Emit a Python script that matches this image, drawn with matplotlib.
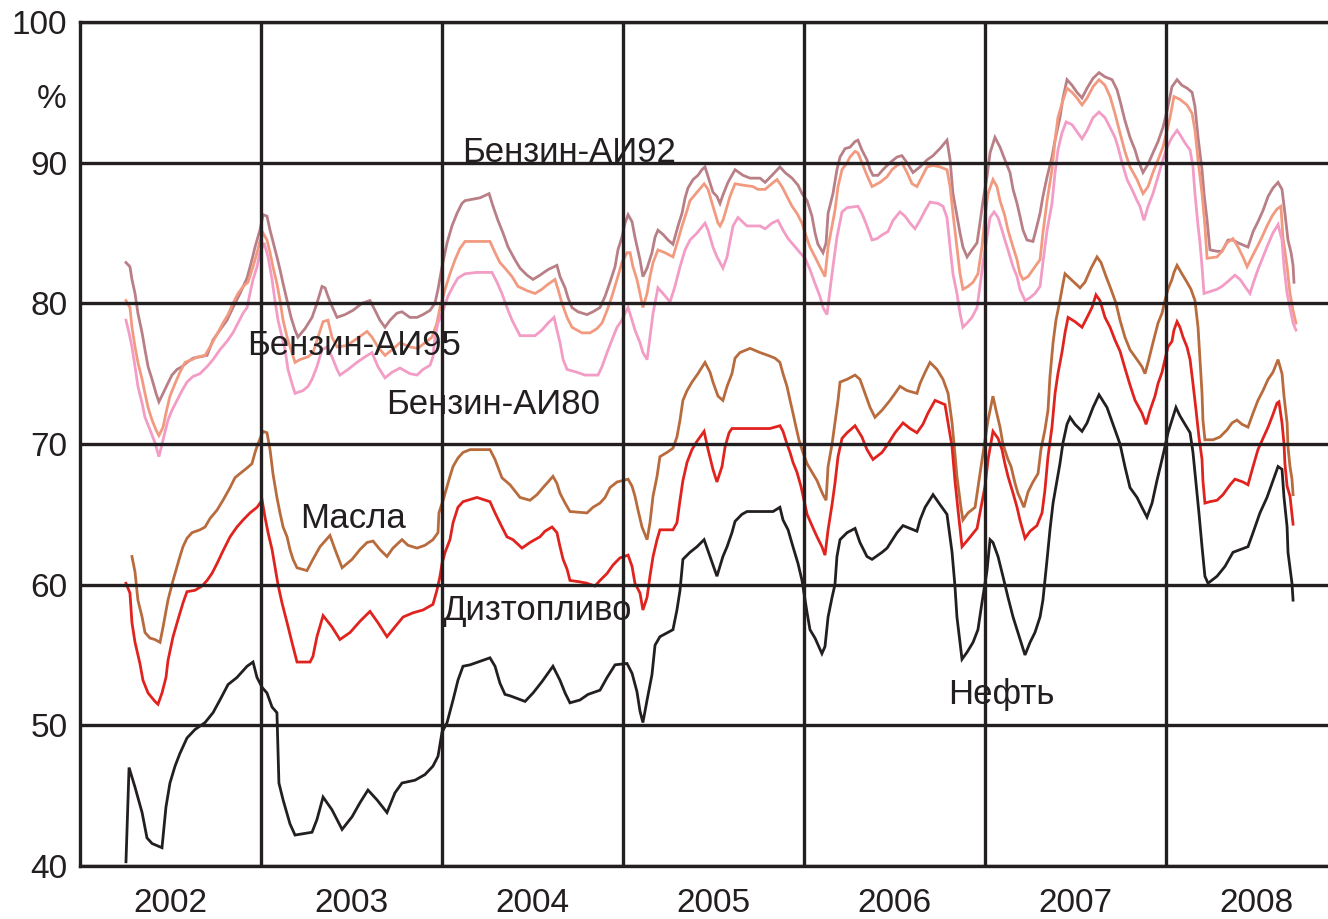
import matplotlib
matplotlib.use("Agg")
import matplotlib.pyplot as plt
import matplotlib.transforms as mtransforms

plt.rcParams['font.family'] = ['Liberation Sans', 'DejaVu Sans']

# ---- data: decimal year / percent -------------------------------------
oil_t = [2002.254, 2002.271, 2002.304, 2002.343, 2002.370, 2002.398, 2002.453, 2002.475, 2002.497, 2002.525,
         2002.552, 2002.591, 2002.635, 2002.691, 2002.735, 2002.773, 2002.818, 2002.867, 2002.923, 2002.956,
         2002.978, 2003.006, 2003.033, 2003.061, 2003.088, 2003.099, 2003.122, 2003.160, 2003.188, 2003.282,
         2003.309, 2003.343, 2003.392, 2003.448, 2003.503, 2003.547, 2003.591, 2003.641, 2003.696, 2003.740,
         2003.779, 2003.851, 2003.906, 2003.950, 2003.978, 2004.000, 2004.028, 2004.061, 2004.088, 2004.116,
         2004.155, 2004.199, 2004.265, 2004.293, 2004.320, 2004.348, 2004.376, 2004.459, 2004.503, 2004.552,
         2004.613, 2004.652, 2004.680, 2004.707, 2004.762, 2004.807, 2004.873, 2004.912, 2004.956, 2005.022,
         2005.050, 2005.077, 2005.094, 2005.110, 2005.133, 2005.160, 2005.177, 2005.204, 2005.276, 2005.298,
         2005.315, 2005.331, 2005.370, 2005.409, 2005.448, 2005.481, 2005.519, 2005.552, 2005.575, 2005.602,
         2005.619, 2005.657, 2005.685, 2005.829, 2005.867, 2005.884, 2005.912, 2005.939, 2005.967, 2005.989,
         2006.017, 2006.033, 2006.061, 2006.099, 2006.116, 2006.133, 2006.155, 2006.171, 2006.182, 2006.199,
         2006.238, 2006.282, 2006.309, 2006.348, 2006.376, 2006.431, 2006.459, 2006.514, 2006.547, 2006.586,
         2006.624, 2006.641, 2006.669, 2006.713, 2006.751, 2006.790, 2006.818, 2006.834, 2006.845, 2006.873,
         2006.901, 2006.934, 2006.961, 2006.983, 2007.011, 2007.028, 2007.044, 2007.072, 2007.099, 2007.127,
         2007.155, 2007.182, 2007.221, 2007.249, 2007.276, 2007.304, 2007.320, 2007.343, 2007.359, 2007.376,
         2007.398, 2007.414, 2007.431, 2007.453, 2007.470, 2007.497, 2007.536, 2007.564, 2007.597, 2007.630,
         2007.674, 2007.707, 2007.746, 2007.773, 2007.801, 2007.840, 2007.867, 2007.895, 2007.923, 2007.950,
         2007.978, 2007.994, 2008.011, 2008.033, 2008.055, 2008.077, 2008.105, 2008.133, 2008.149, 2008.166,
         2008.182, 2008.199, 2008.215, 2008.232, 2008.282, 2008.326, 2008.370, 2008.453, 2008.481, 2008.519,
         2008.558, 2008.591, 2008.619, 2008.641, 2008.652, 2008.669, 2008.674, 2008.696, 2008.702]
oil_v = [40.3, 47.0, 45.6, 43.8, 42.0, 41.6, 41.3, 44.2, 45.9, 47.1,
         48.0, 49.1, 49.7, 50.2, 50.9, 51.8, 52.9, 53.4, 54.2, 54.5,
         53.4, 52.7, 52.3, 51.3, 50.9, 45.9, 44.7, 43.0, 42.2, 42.4,
         43.3, 44.9, 44.0, 42.6, 43.5, 44.5, 45.4, 44.7, 43.8, 45.2,
         45.9, 46.1, 46.5, 47.1, 47.8, 49.5, 50.2, 51.8, 53.2, 54.2,
         54.3, 54.5, 54.8, 54.2, 53.0, 52.2, 52.1, 51.7, 52.3, 53.1,
         54.2, 53.2, 52.3, 51.6, 51.8, 52.2, 52.5, 53.4, 54.3, 54.4,
         53.7, 52.4, 51.0, 50.2, 51.8, 53.6, 55.7, 56.3, 56.8, 58.2,
         59.6, 61.8, 62.3, 62.7, 63.2, 62.0, 60.6, 62.0, 62.7, 63.7,
         64.5, 65.0, 65.2, 65.2, 65.5, 64.6, 63.9, 62.7, 61.5, 60.3,
         58.0, 56.8, 56.2, 55.1, 55.6, 57.7, 59.1, 60.0, 62.0, 63.2,
         63.7, 64.0, 63.0, 62.0, 61.8, 62.3, 62.6, 63.7, 64.2, 64.0,
         63.8, 64.6, 65.5, 66.4, 65.7, 65.0, 62.3, 59.9, 57.7, 54.7,
         55.2, 55.9, 56.8, 58.7, 61.0, 63.2, 63.0, 62.0, 60.6, 59.1,
         57.7, 56.6, 55.0, 55.9, 56.6, 57.7, 58.9, 61.8, 63.9, 65.8,
         67.4, 68.6, 70.1, 71.4, 71.9, 71.4, 70.9, 71.5, 72.6, 73.5,
         72.6, 71.4, 70.0, 68.4, 66.9, 66.2, 65.5, 64.8, 65.8, 67.4,
         68.9, 69.8, 70.8, 71.7, 72.6, 72.0, 71.4, 70.8, 69.4, 67.2,
         65.1, 62.7, 60.6, 60.1, 60.6, 61.3, 62.3, 62.7, 63.7, 65.1,
         66.2, 67.4, 68.4, 68.2, 66.2, 64.1, 62.3, 60.1, 58.9]

diesel_t = [2002.254, 2002.276, 2002.287, 2002.304, 2002.331, 2002.348, 2002.376, 2002.414, 2002.431, 2002.453,
            2002.475, 2002.486, 2002.514, 2002.541, 2002.569, 2002.591, 2002.635, 2002.674, 2002.702, 2002.729,
            2002.757, 2002.790, 2002.829, 2002.867, 2002.901, 2002.939, 2002.978, 2003.006, 2003.022, 2003.039,
            2003.061, 2003.077, 2003.094, 2003.116, 2003.144, 2003.171, 2003.199, 2003.271, 2003.287, 2003.309,
            2003.343, 2003.392, 2003.436, 2003.492, 2003.547, 2003.602, 2003.646, 2003.696, 2003.740, 2003.785,
            2003.840, 2003.895, 2003.950, 2003.972, 2003.989, 2004.000, 2004.017, 2004.044, 2004.061, 2004.088,
            2004.116, 2004.193, 2004.265, 2004.293, 2004.331, 2004.359, 2004.392, 2004.442, 2004.486, 2004.541,
            2004.569, 2004.608, 2004.635, 2004.652, 2004.669, 2004.691, 2004.707, 2004.762, 2004.801, 2004.845,
            2004.873, 2004.912, 2004.945, 2004.983, 2005.028, 2005.050, 2005.066, 2005.094, 2005.110, 2005.133,
            2005.149, 2005.166, 2005.188, 2005.204, 2005.276, 2005.298, 2005.315, 2005.331, 2005.354, 2005.381,
            2005.409, 2005.448, 2005.470, 2005.497, 2005.519, 2005.547, 2005.564, 2005.586, 2005.602, 2005.812,
            2005.867, 2005.884, 2005.906, 2005.923, 2005.939, 2005.961, 2005.983, 2006.000, 2006.017, 2006.044,
            2006.072, 2006.099, 2006.116, 2006.133, 2006.155, 2006.171, 2006.188, 2006.210, 2006.238, 2006.282,
            2006.320, 2006.348, 2006.381, 2006.431, 2006.464, 2006.503, 2006.547, 2006.586, 2006.624, 2006.657,
            2006.685, 2006.724, 2006.779, 2006.796, 2006.818, 2006.834, 2006.851, 2006.873, 2006.906, 2006.956,
            2006.972, 2007.000, 2007.017, 2007.044, 2007.072, 2007.094, 2007.110, 2007.127, 2007.155, 2007.177,
            2007.193, 2007.221, 2007.249, 2007.287, 2007.315, 2007.331, 2007.348, 2007.370, 2007.387, 2007.403,
            2007.425, 2007.442, 2007.459, 2007.497, 2007.536, 2007.564, 2007.591, 2007.613, 2007.635, 2007.663,
            2007.691, 2007.718, 2007.746, 2007.773, 2007.801, 2007.829, 2007.867, 2007.890, 2007.912, 2007.939,
            2007.956, 2007.978, 2007.994, 2008.011, 2008.033, 2008.044, 2008.061, 2008.077, 2008.094, 2008.116,
            2008.133, 2008.149, 2008.166, 2008.182, 2008.199, 2008.204, 2008.215, 2008.243, 2008.282, 2008.315,
            2008.354, 2008.381, 2008.425, 2008.453, 2008.481, 2008.508, 2008.536, 2008.564, 2008.591, 2008.613,
            2008.624, 2008.641, 2008.652, 2008.657, 2008.669, 2008.685, 2008.702]
diesel_v = [60.1, 59.4, 57.3, 55.9, 54.4, 53.2, 52.3, 51.7, 51.5, 52.3,
            53.4, 54.6, 56.3, 57.5, 58.7, 59.5, 59.6, 59.9, 60.3, 60.8,
            61.5, 62.4, 63.4, 64.1, 64.6, 65.1, 65.5, 66.0, 64.8, 63.7,
            62.5, 61.3, 60.0, 58.7, 57.3, 55.9, 54.5, 54.5, 54.9, 56.3,
            57.8, 57.0, 56.1, 56.6, 57.4, 58.1, 57.3, 56.3, 57.0, 57.7,
            58.0, 58.2, 58.6, 59.6, 60.6, 61.5, 62.3, 63.2, 64.4, 65.5,
            65.9, 66.2, 65.9, 65.1, 64.1, 63.4, 63.2, 62.6, 63.0, 63.4,
            63.8, 64.1, 63.7, 62.7, 61.8, 61.1, 60.3, 60.2, 60.1, 59.9,
            60.3, 60.8, 61.4, 61.9, 62.1, 61.3, 60.1, 59.4, 58.2, 59.1,
            60.6, 62.0, 63.2, 63.9, 63.9, 64.4, 66.0, 67.4, 68.7, 69.6,
            70.2, 70.9, 69.6, 68.2, 67.3, 68.4, 69.8, 70.8, 71.1, 71.1,
            71.3, 70.9, 70.0, 69.4, 68.7, 68.0, 67.0, 66.0, 65.0, 64.2,
            63.4, 62.7, 62.1, 63.9, 65.7, 67.2, 69.1, 70.4, 70.8, 71.3,
            70.5, 69.6, 68.9, 69.4, 70.0, 70.8, 71.5, 71.1, 70.8, 71.4,
            72.2, 73.1, 72.8, 71.5, 69.8, 67.4, 65.3, 62.7, 63.2, 64.0,
            65.1, 67.0, 68.9, 70.9, 70.4, 69.6, 68.6, 67.7, 66.5, 65.5,
            64.6, 63.3, 63.8, 64.2, 65.1, 66.7, 69.1, 71.2, 73.6, 75.0,
            76.5, 77.9, 79.0, 78.7, 78.3, 79.0, 79.7, 80.6, 80.2, 79.0,
            78.3, 77.4, 76.6, 75.4, 74.2, 73.1, 72.2, 71.4, 72.4, 73.4,
            74.3, 75.1, 76.0, 76.9, 77.3, 78.1, 78.7, 78.3, 77.6, 76.9,
            76.0, 74.3, 72.4, 70.5, 68.9, 67.4, 65.8, 65.9, 66.0, 66.4,
            67.1, 67.5, 67.3, 67.1, 68.4, 69.6, 70.4, 71.2, 72.1, 72.9,
            73.0, 71.5, 70.0, 68.6, 67.0, 66.3, 64.3]

oils_t = [2002.287, 2002.304, 2002.320, 2002.343, 2002.359, 2002.387, 2002.414, 2002.442, 2002.459, 2002.486,
          2002.514, 2002.536, 2002.552, 2002.569, 2002.591, 2002.619, 2002.663, 2002.691, 2002.718, 2002.757,
          2002.790, 2002.829, 2002.856, 2002.884, 2002.923, 2002.950, 2002.967, 2002.983, 2003.011, 2003.033,
          2003.050, 2003.066, 2003.088, 2003.105, 2003.122, 2003.144, 2003.160, 2003.177, 2003.199, 2003.254,
          2003.287, 2003.326, 2003.381, 2003.409, 2003.448, 2003.503, 2003.547, 2003.586, 2003.619, 2003.657,
          2003.696, 2003.729, 2003.779, 2003.812, 2003.862, 2003.906, 2003.950, 2003.978, 2003.983, 2004.006,
          2004.028, 2004.044, 2004.061, 2004.088, 2004.116, 2004.155, 2004.265, 2004.293, 2004.331, 2004.376,
          2004.431, 2004.486, 2004.525, 2004.558, 2004.586, 2004.613, 2004.635, 2004.652, 2004.680, 2004.707,
          2004.801, 2004.834, 2004.873, 2004.901, 2004.928, 2004.967, 2005.028, 2005.050, 2005.066, 2005.083,
          2005.105, 2005.133, 2005.149, 2005.166, 2005.188, 2005.204, 2005.243, 2005.276, 2005.298, 2005.315,
          2005.331, 2005.354, 2005.381, 2005.414, 2005.453, 2005.481, 2005.497, 2005.525, 2005.552, 2005.575,
          2005.602, 2005.619, 2005.646, 2005.702, 2005.757, 2005.801, 2005.840, 2005.867, 2005.884, 2005.906,
          2005.923, 2005.939, 2005.956, 2005.972, 2005.994, 2006.017, 2006.044, 2006.072, 2006.088, 2006.105,
          2006.122, 2006.133, 2006.155, 2006.171, 2006.188, 2006.199, 2006.238, 2006.282, 2006.309, 2006.337,
          2006.365, 2006.392, 2006.431, 2006.475, 2006.503, 2006.530, 2006.569, 2006.624, 2006.641, 2006.669,
          2006.696, 2006.735, 2006.768, 2006.796, 2006.818, 2006.834, 2006.845, 2006.867, 2006.878, 2006.906,
          2006.945, 2006.961, 2006.978, 2007.000, 2007.017, 2007.039, 2007.044, 2007.061, 2007.083, 2007.099,
          2007.127, 2007.144, 2007.166, 2007.182, 2007.199, 2007.215, 2007.238, 2007.265, 2007.293, 2007.309,
          2007.331, 2007.348, 2007.359, 2007.376, 2007.392, 2007.414, 2007.431, 2007.442, 2007.475, 2007.525,
          2007.552, 2007.586, 2007.619, 2007.641, 2007.669, 2007.696, 2007.724, 2007.746, 2007.773, 2007.801,
          2007.840, 2007.867, 2007.884, 2007.901, 2007.928, 2007.956, 2007.978, 2007.994, 2008.011, 2008.033,
          2008.044, 2008.061, 2008.088, 2008.116, 2008.138, 2008.160, 2008.177, 2008.188, 2008.199, 2008.204,
          2008.215, 2008.260, 2008.298, 2008.337, 2008.365, 2008.392, 2008.420, 2008.453, 2008.481, 2008.508,
          2008.536, 2008.564, 2008.591, 2008.619, 2008.641, 2008.652, 2008.669, 2008.674, 2008.685, 2008.696,
          2008.702]
oils_v = [62.0, 60.9, 58.9, 57.7, 56.6, 56.2, 56.1, 55.9, 57.0, 58.9,
          60.3, 61.3, 62.0, 62.7, 63.3, 63.7, 63.9, 64.1, 64.7, 65.3,
          66.0, 66.9, 67.6, 67.9, 68.3, 68.6, 69.4, 70.0, 70.9, 70.8,
          69.6, 67.9, 66.2, 65.1, 64.1, 63.4, 62.5, 61.8, 61.2, 61.0,
          61.8, 62.7, 63.5, 62.5, 61.2, 61.8, 62.5, 63.0, 63.1, 62.5,
          62.0, 62.6, 63.2, 62.8, 62.6, 62.8, 63.2, 63.7, 65.1, 66.0,
          67.0, 67.7, 68.4, 69.0, 69.4, 69.6, 69.6, 68.9, 67.6, 67.1,
          66.2, 66.0, 66.4, 66.9, 67.3, 67.7, 67.2, 66.5, 65.8, 65.2,
          65.1, 65.5, 65.8, 66.2, 66.9, 67.3, 67.5, 67.0, 66.3, 65.3,
          64.1, 63.2, 64.4, 66.3, 67.7, 69.1, 69.4, 69.7, 70.5, 71.7,
          73.1, 73.8, 74.4, 75.0, 75.8, 75.1, 74.4, 73.4, 73.1, 74.1,
          75.0, 76.1, 76.5, 76.8, 76.5, 76.3, 76.1, 75.8, 75.0, 74.1,
          73.1, 72.2, 71.2, 70.3, 69.4, 68.6, 68.0, 67.4, 66.9, 66.4,
          66.0, 68.4, 70.0, 71.5, 73.1, 74.4, 74.6, 74.9, 74.6, 73.6,
          72.6, 71.9, 72.4, 73.1, 73.6, 74.1, 73.8, 73.6, 74.3, 75.1,
          75.8, 75.3, 74.6, 73.6, 71.5, 69.3, 67.7, 65.5, 64.6, 65.1,
          65.5, 66.9, 68.4, 70.3, 71.7, 73.1, 73.4, 72.4, 71.2, 70.0,
          68.9, 68.4, 67.2, 66.5, 66.0, 65.5, 66.6, 67.3, 67.9, 69.6,
          71.0, 72.4, 74.8, 77.2, 78.8, 80.2, 81.4, 82.1, 81.7, 81.1,
          81.5, 82.5, 83.3, 82.9, 81.9, 81.0, 80.0, 78.8, 77.6, 76.7,
          76.0, 75.5, 75.0, 75.8, 77.2, 78.6, 79.3, 80.2, 81.0, 81.7,
          82.2, 82.7, 82.1, 81.5, 81.0, 80.2, 78.3, 76.0, 73.6, 71.7,
          70.3, 70.3, 70.5, 71.0, 71.5, 71.7, 71.4, 71.2, 72.2, 73.1,
          73.8, 74.6, 75.1, 76.0, 75.0, 73.4, 71.5, 69.8, 68.4, 67.5,
          66.4]

ai92_t = [2002.254, 2002.276, 2002.287, 2002.304, 2002.320, 2002.343, 2002.359, 2002.376, 2002.398, 2002.420,
          2002.436, 2002.459, 2002.481, 2002.508, 2002.536, 2002.564, 2002.591, 2002.624, 2002.702, 2002.735,
          2002.773, 2002.812, 2002.845, 2002.884, 2002.923, 2002.950, 2002.967, 2002.994, 2003.011, 2003.033,
          2003.050, 2003.066, 2003.088, 2003.105, 2003.122, 2003.144, 2003.166, 2003.188, 2003.204, 2003.243,
          2003.282, 2003.309, 2003.337, 2003.354, 2003.370, 2003.392, 2003.420, 2003.464, 2003.508, 2003.558,
          2003.602, 2003.630, 2003.657, 2003.685, 2003.713, 2003.751, 2003.779, 2003.823, 2003.862, 2003.895,
          2003.934, 2003.961, 2003.978, 2004.000, 2004.028, 2004.055, 2004.083, 2004.110, 2004.127, 2004.210,
          2004.260, 2004.282, 2004.309, 2004.337, 2004.365, 2004.403, 2004.431, 2004.470, 2004.503, 2004.541,
          2004.586, 2004.635, 2004.652, 2004.680, 2004.696, 2004.718, 2004.751, 2004.801, 2004.834, 2004.873,
          2004.901, 2004.928, 2004.956, 2004.972, 2004.994, 2005.011, 2005.028, 2005.050, 2005.066, 2005.094,
          2005.110, 2005.133, 2005.160, 2005.177, 2005.193, 2005.221, 2005.249, 2005.276, 2005.304, 2005.326,
          2005.343, 2005.359, 2005.387, 2005.414, 2005.436, 2005.453, 2005.470, 2005.497, 2005.519, 2005.536,
          2005.552, 2005.580, 2005.619, 2005.663, 2005.702, 2005.757, 2005.785, 2005.823, 2005.867, 2005.895,
          2005.934, 2005.967, 2005.989, 2006.017, 2006.044, 2006.061, 2006.077, 2006.105, 2006.122, 2006.133,
          2006.160, 2006.182, 2006.199, 2006.227, 2006.254, 2006.282, 2006.298, 2006.320, 2006.348, 2006.365,
          2006.381, 2006.409, 2006.436, 2006.475, 2006.514, 2006.541, 2006.569, 2006.602, 2006.641, 2006.680,
          2006.713, 2006.751, 2006.790, 2006.807, 2006.823, 2006.845, 2006.862, 2006.878, 2006.901, 2006.928,
          2006.956, 2006.972, 2006.989, 2007.011, 2007.028, 2007.055, 2007.083, 2007.110, 2007.138, 2007.155,
          2007.177, 2007.193, 2007.210, 2007.232, 2007.265, 2007.287, 2007.304, 2007.320, 2007.343, 2007.370,
          2007.387, 2007.414, 2007.431, 2007.453, 2007.481, 2007.508, 2007.536, 2007.564, 2007.597, 2007.630,
          2007.663, 2007.702, 2007.729, 2007.746, 2007.773, 2007.801, 2007.829, 2007.845, 2007.873, 2007.901,
          2007.928, 2007.956, 2007.983, 2008.006, 2008.033, 2008.061, 2008.088, 2008.116, 2008.144, 2008.160,
          2008.177, 2008.199, 2008.210, 2008.227, 2008.243, 2008.282, 2008.309, 2008.343, 2008.370, 2008.398,
          2008.453, 2008.481, 2008.508, 2008.536, 2008.564, 2008.591, 2008.619, 2008.641, 2008.657, 2008.674,
          2008.691, 2008.702, 2008.707]
ai92_v = [82.9, 82.6, 81.7, 80.7, 79.3, 77.9, 76.7, 75.5, 74.6, 73.6,
          73.0, 73.6, 74.2, 74.9, 75.3, 75.5, 75.8, 76.1, 76.3, 77.4,
          78.1, 78.8, 79.7, 80.7, 81.8, 83.1, 84.0, 85.2, 86.3, 86.2,
          85.2, 84.4, 83.3, 82.4, 81.4, 80.2, 79.0, 78.1, 77.6, 78.2,
          79.0, 80.0, 81.2, 81.1, 80.5, 79.8, 79.0, 79.2, 79.5, 80.0,
          80.2, 79.5, 78.8, 78.3, 78.8, 79.3, 79.4, 79.0, 79.0, 79.2,
          79.5, 80.0, 81.0, 82.6, 84.3, 85.5, 86.4, 87.1, 87.3, 87.5,
          87.8, 86.9, 85.9, 85.0, 84.0, 83.1, 82.5, 82.0, 81.7, 82.0,
          82.4, 82.7, 81.9, 81.1, 80.4, 79.7, 79.4, 79.2, 79.4, 79.7,
          80.5, 81.5, 82.6, 83.8, 84.7, 85.7, 86.3, 85.8, 84.7, 83.1,
          81.9, 82.5, 83.6, 84.7, 85.2, 84.9, 84.5, 84.2, 85.5, 86.4,
          87.5, 88.2, 88.8, 89.1, 89.5, 89.7, 89.0, 87.9, 87.6, 87.1,
          87.7, 88.6, 89.5, 89.1, 88.9, 88.9, 88.6, 89.1, 89.7, 89.3,
          88.9, 88.4, 87.8, 87.3, 86.2, 85.0, 84.2, 83.6, 84.3, 86.4,
          87.8, 89.5, 90.4, 91.0, 91.1, 91.5, 91.6, 90.9, 90.2, 89.5,
          89.1, 89.1, 89.5, 90.0, 90.4, 90.5, 90.0, 89.3, 89.7, 90.2,
          90.5, 91.0, 91.6, 90.2, 87.8, 86.2, 85.0, 84.0, 83.3, 83.8,
          84.3, 85.7, 87.3, 89.0, 90.7, 91.8, 91.1, 90.2, 89.3, 88.1,
          87.1, 86.2, 85.2, 84.5, 84.4, 85.5, 86.4, 87.6, 89.0, 90.4,
          91.6, 93.2, 94.6, 95.9, 95.5, 95.0, 94.6, 95.3, 96.0, 96.4,
          96.1, 95.9, 95.2, 94.4, 93.0, 91.8, 90.9, 90.2, 89.3, 89.9,
          90.7, 91.5, 92.5, 93.7, 95.4, 95.9, 95.5, 95.3, 95.0, 94.0,
          91.8, 89.5, 87.8, 85.9, 83.8, 83.7, 83.7, 84.5, 84.5, 84.3,
          84.0, 85.1, 85.8, 86.6, 87.6, 88.2, 88.6, 88.1, 86.4, 84.5,
          83.6, 82.7, 81.5]

ai95_t = [2002.254, 2002.276, 2002.287, 2002.304, 2002.320, 2002.343, 2002.359, 2002.376, 2002.398, 2002.420,
          2002.436, 2002.459, 2002.475, 2002.497, 2002.525, 2002.552, 2002.580, 2002.619, 2002.652, 2002.691,
          2002.718, 2002.757, 2002.790, 2002.818, 2002.845, 2002.873, 2002.901, 2002.928, 2002.956, 2002.978,
          2002.994, 2003.011, 2003.033, 2003.050, 2003.066, 2003.088, 2003.105, 2003.122, 2003.144, 2003.171,
          2003.188, 2003.215, 2003.260, 2003.287, 2003.315, 2003.343, 2003.370, 2003.392, 2003.420, 2003.475,
          2003.530, 2003.586, 2003.613, 2003.646, 2003.685, 2003.724, 2003.768, 2003.823, 2003.867, 2003.906,
          2003.945, 2003.972, 2003.989, 2004.017, 2004.044, 2004.072, 2004.099, 2004.127, 2004.265, 2004.293,
          2004.320, 2004.348, 2004.387, 2004.420, 2004.470, 2004.514, 2004.552, 2004.580, 2004.624, 2004.641,
          2004.663, 2004.691, 2004.718, 2004.773, 2004.818, 2004.856, 2004.884, 2004.912, 2004.939, 2004.967,
          2004.994, 2005.022, 2005.039, 2005.055, 2005.077, 2005.094, 2005.110, 2005.133, 2005.149, 2005.166,
          2005.193, 2005.232, 2005.276, 2005.304, 2005.326, 2005.354, 2005.370, 2005.409, 2005.448, 2005.470,
          2005.497, 2005.525, 2005.536, 2005.552, 2005.564, 2005.591, 2005.619, 2005.663, 2005.718, 2005.746,
          2005.785, 2005.812, 2005.851, 2005.878, 2005.906, 2005.934, 2005.961, 2005.989, 2006.006, 2006.033,
          2006.061, 2006.088, 2006.116, 2006.133, 2006.155, 2006.171, 2006.188, 2006.210, 2006.238, 2006.254,
          2006.282, 2006.298, 2006.320, 2006.348, 2006.376, 2006.420, 2006.459, 2006.486, 2006.514, 2006.541,
          2006.569, 2006.597, 2006.624, 2006.652, 2006.680, 2006.713, 2006.751, 2006.790, 2006.807, 2006.823,
          2006.845, 2006.862, 2006.878, 2006.906, 2006.934, 2006.961, 2006.983, 2007.000, 2007.017, 2007.044,
          2007.066, 2007.083, 2007.110, 2007.127, 2007.155, 2007.177, 2007.193, 2007.210, 2007.238, 2007.276,
          2007.304, 2007.320, 2007.343, 2007.370, 2007.387, 2007.403, 2007.425, 2007.453, 2007.481, 2007.508,
          2007.536, 2007.564, 2007.597, 2007.630, 2007.663, 2007.691, 2007.718, 2007.746, 2007.773, 2007.801,
          2007.840, 2007.873, 2007.901, 2007.928, 2007.956, 2007.983, 2008.006, 2008.022, 2008.044, 2008.077,
          2008.116, 2008.144, 2008.160, 2008.177, 2008.199, 2008.215, 2008.227, 2008.282, 2008.309, 2008.337,
          2008.370, 2008.398, 2008.425, 2008.448, 2008.475, 2008.503, 2008.530, 2008.558, 2008.586, 2008.613,
          2008.635, 2008.646, 2008.669, 2008.685, 2008.702, 2008.718]
ai95_v = [80.2, 79.7, 78.3, 76.9, 75.8, 74.6, 73.6, 72.6, 71.7, 71.0,
          70.6, 71.2, 72.2, 73.4, 74.3, 75.1, 75.8, 76.0, 76.2, 76.3,
          76.9, 77.8, 78.6, 79.2, 80.0, 80.7, 81.2, 81.5, 82.6, 83.6,
          84.4, 85.0, 84.5, 83.6, 82.6, 81.4, 80.2, 78.8, 77.6, 76.5,
          75.8, 76.0, 76.2, 76.5, 77.6, 78.7, 78.8, 77.6, 76.9, 77.0,
          77.5, 78.0, 77.6, 76.9, 76.3, 76.7, 77.2, 76.9, 76.8, 77.2,
          77.6, 78.6, 79.7, 81.0, 82.1, 83.1, 83.9, 84.4, 84.4, 83.6,
          82.9, 82.5, 81.9, 81.2, 80.9, 80.7, 81.0, 81.3, 81.7, 81.0,
          80.0, 79.0, 78.3, 77.9, 77.9, 78.2, 78.6, 79.5, 80.5, 81.7,
          82.9, 83.6, 83.6, 82.6, 81.7, 80.7, 79.7, 80.7, 81.9, 82.9,
          83.8, 83.6, 83.3, 84.5, 85.5, 86.6, 87.3, 87.9, 88.5, 88.1,
          86.9, 85.7, 85.5, 85.9, 86.4, 87.6, 88.5, 88.4, 88.3, 88.1,
          88.1, 88.4, 88.8, 88.3, 87.6, 86.9, 86.4, 85.7, 85.0, 84.0,
          83.3, 82.6, 81.9, 84.0, 85.5, 86.6, 88.3, 89.5, 90.0, 90.4,
          90.8, 90.7, 90.0, 89.1, 88.3, 88.6, 89.0, 89.5, 89.8, 90.0,
          89.3, 88.5, 88.3, 89.0, 89.7, 89.8, 89.7, 89.5, 88.3, 86.4,
          84.0, 82.1, 81.0, 81.2, 81.5, 82.1, 84.0, 86.2, 87.8, 88.8,
          88.3, 87.3, 86.2, 85.2, 84.0, 83.1, 82.1, 81.7, 81.9, 82.6,
          83.1, 85.0, 87.3, 89.5, 91.6, 93.2, 94.2, 95.3, 95.0, 94.6,
          94.1, 94.6, 95.4, 95.9, 95.5, 94.7, 93.5, 92.1, 90.8, 89.7,
          88.8, 87.8, 88.3, 89.3, 90.2, 91.1, 92.3, 93.2, 94.7, 94.5,
          94.1, 93.5, 92.3, 90.2, 87.8, 85.5, 83.2, 83.3, 83.7, 84.3,
          84.6, 84.0, 83.3, 82.6, 83.3, 84.0, 84.7, 85.5, 86.2, 86.7,
          86.9, 84.7, 82.6, 80.7, 79.5, 78.6]

ai80_t = [2002.254, 2002.271, 2002.287, 2002.304, 2002.320, 2002.343, 2002.359, 2002.387, 2002.414, 2002.436,
          2002.459, 2002.486, 2002.508, 2002.536, 2002.564, 2002.591, 2002.624, 2002.663, 2002.702, 2002.735,
          2002.773, 2002.812, 2002.845, 2002.873, 2002.901, 2002.923, 2002.939, 2002.956, 2002.978, 2002.994,
          2003.017, 2003.039, 2003.061, 2003.077, 2003.094, 2003.116, 2003.133, 2003.149, 2003.171, 2003.188,
          2003.232, 2003.260, 2003.282, 2003.309, 2003.337, 2003.365, 2003.392, 2003.420, 2003.436, 2003.481,
          2003.530, 2003.575, 2003.613, 2003.646, 2003.685, 2003.724, 2003.768, 2003.823, 2003.862, 2003.895,
          2003.934, 2003.950, 2003.961, 2003.978, 2004.006, 2004.033, 2004.061, 2004.088, 2004.127, 2004.193,
          2004.276, 2004.304, 2004.331, 2004.359, 2004.387, 2004.431, 2004.514, 2004.552, 2004.586, 2004.619,
          2004.635, 2004.652, 2004.669, 2004.691, 2004.746, 2004.790, 2004.862, 2004.884, 2004.912, 2004.939,
          2004.967, 2004.994, 2005.011, 2005.028, 2005.050, 2005.066, 2005.094, 2005.110, 2005.133, 2005.149,
          2005.166, 2005.193, 2005.221, 2005.260, 2005.287, 2005.315, 2005.343, 2005.370, 2005.409, 2005.453,
          2005.470, 2005.497, 2005.519, 2005.536, 2005.552, 2005.575, 2005.591, 2005.608, 2005.635, 2005.685,
          2005.757, 2005.785, 2005.823, 2005.856, 2005.884, 2005.912, 2005.939, 2005.978, 2006.006, 2006.033,
          2006.061, 2006.088, 2006.105, 2006.127, 2006.144, 2006.160, 2006.182, 2006.210, 2006.238, 2006.298,
          2006.320, 2006.348, 2006.376, 2006.403, 2006.436, 2006.464, 2006.492, 2006.530, 2006.558, 2006.586,
          2006.613, 2006.641, 2006.669, 2006.696, 2006.740, 2006.768, 2006.790, 2006.807, 2006.823, 2006.845,
          2006.862, 2006.878, 2006.901, 2006.928, 2006.956, 2006.972, 2006.989, 2007.011, 2007.028, 2007.050,
          2007.072, 2007.094, 2007.110, 2007.127, 2007.155, 2007.177, 2007.193, 2007.221, 2007.249, 2007.276,
          2007.304, 2007.320, 2007.343, 2007.370, 2007.387, 2007.403, 2007.425, 2007.448, 2007.481, 2007.508,
          2007.536, 2007.564, 2007.597, 2007.630, 2007.663, 2007.691, 2007.718, 2007.735, 2007.757, 2007.785,
          2007.812, 2007.840, 2007.856, 2007.878, 2007.901, 2007.928, 2007.956, 2007.978, 2008.006, 2008.033,
          2008.061, 2008.077, 2008.105, 2008.133, 2008.149, 2008.160, 2008.177, 2008.188, 2008.199, 2008.210,
          2008.282, 2008.309, 2008.337, 2008.381, 2008.409, 2008.436, 2008.464, 2008.481, 2008.508, 2008.536,
          2008.564, 2008.591, 2008.619, 2008.641, 2008.652, 2008.669, 2008.685, 2008.702, 2008.718]
ai80_v = [78.8, 77.9, 76.9, 75.5, 74.1, 72.9, 71.9, 71.0, 70.1, 69.1,
          70.3, 71.7, 72.4, 73.1, 73.8, 74.4, 74.8, 75.0, 75.5, 76.0,
          76.7, 77.3, 77.9, 78.6, 79.3, 79.7, 80.7, 81.7, 82.6, 83.6,
          84.3, 83.3, 81.7, 80.2, 78.8, 77.6, 76.7, 75.3, 74.3, 73.6,
          73.8, 74.1, 74.6, 75.5, 76.7, 76.9, 76.2, 75.3, 74.9, 75.3,
          75.8, 76.2, 76.5, 75.5, 74.7, 75.1, 75.4, 75.0, 74.9, 75.3,
          75.6, 76.2, 77.6, 78.6, 79.5, 80.5, 81.2, 81.8, 82.1, 82.2,
          82.2, 81.5, 80.7, 79.7, 78.8, 77.7, 77.7, 78.1, 78.6, 79.0,
          78.1, 77.2, 76.0, 75.3, 75.1, 74.9, 74.9, 75.5, 76.5, 77.4,
          78.3, 78.8, 79.3, 79.7, 78.8, 78.1, 77.2, 76.5, 76.0, 77.6,
          79.3, 81.1, 80.7, 80.1, 81.2, 82.6, 83.8, 84.5, 85.0, 85.7,
          85.2, 84.0, 83.3, 82.9, 82.5, 83.3, 84.4, 85.5, 86.1, 85.5,
          85.5, 85.3, 85.7, 85.9, 85.2, 84.6, 84.2, 83.6, 83.2, 82.4,
          81.4, 80.5, 79.7, 79.2, 81.0, 82.6, 84.7, 86.5, 86.8, 86.9,
          86.4, 85.5, 84.5, 84.6, 84.9, 85.1, 85.9, 86.5, 86.2, 85.7,
          85.3, 85.9, 86.6, 87.2, 87.1, 86.9, 86.1, 84.0, 82.1, 80.7,
          79.3, 78.3, 78.6, 79.0, 79.7, 81.2, 82.9, 84.7, 86.1, 86.5,
          86.1, 85.2, 84.5, 83.8, 82.6, 81.9, 81.0, 80.2, 80.4, 80.7,
          81.2, 82.9, 85.2, 87.1, 89.3, 90.9, 92.1, 92.9, 92.7, 92.2,
          91.7, 92.3, 93.2, 93.6, 93.2, 92.5, 91.8, 91.1, 90.0, 88.8,
          88.1, 87.3, 86.9, 85.9, 86.9, 87.8, 89.0, 90.0, 91.1, 91.8,
          92.3, 92.0, 91.4, 90.9, 89.7, 87.8, 85.5, 84.3, 82.6, 80.7,
          81.0, 81.2, 81.5, 82.0, 81.7, 81.2, 80.7, 81.4, 82.4, 83.3,
          84.2, 85.0, 85.6, 84.5, 82.6, 80.7, 79.7, 78.6, 78.1]

years = [2002, 2003, 2004, 2005, 2006, 2007, 2008]
y_ticks = [40, 50, 60, 70, 80, 90, 100]

series = [
    (ai92_t, ai92_v, '#B97F87'),
    (ai95_t, ai95_v, '#F29A80'),
    (ai80_t, ai80_v, '#F29CC6'),
    (oils_t, oils_v, '#B86B3D'),
    (diesel_t, diesel_v, '#E0231F'),
    (oil_t, oil_v, '#231F20'),
]

labels = [
    ('Бензин-АИ92', 2004.110, 90.05),
    ('Бензин-АИ95', 2002.923, 76.3),
    ('Бензин-АИ80', 2003.691, 72.1),
    ('Масла', 2003.215, 64.0),
    ('Дизтопливо', 2004.006, 57.5),
    ('Нефть', 2006.796, 51.5),
]

W, H = 1328, 919
fig = plt.figure(figsize=(W / 100, H / 100), dpi=100)
ax = fig.add_axes([80 / W, (H - 866) / H, (W - 80) / W, (866 - 22) / H])

for t, v, c in series:
    ax.plot(t, v, color=c, lw=2.0, solid_joinstyle='miter', zorder=2)

gridc = '#231F20'
ax.set_xlim(2002, 2002 + (W - 80) / 181.0)
ax.set_ylim(40, 100)

ax.set_yticks(y_ticks)
ax.set_yticklabels([str(v) for v in y_ticks])
ax.set_xticks(years[1:])
ax.set_xticklabels([])
ax.set_xticks([y + 0.5 for y in years], minor=True)
ax.set_xticklabels([str(y) for y in years], minor=True)

ax.tick_params(axis='y', length=0, pad=9, labelsize=24, colors=gridc)
ax.tick_params(axis='x', which='major', length=0)
ax.tick_params(axis='x', which='minor', length=0, pad=16, labelsize=24, colors=gridc)

ax.grid(True, which='major', color=gridc, lw=2.4)
ax.set_axisbelow(False)
for side in ['left', 'bottom', 'top']:
    ax.spines[side].set_color(gridc)
    ax.spines[side].set_linewidth(2.4)
    ax.spines[side].set_zorder(3)
ax.spines['right'].set_visible(False)

for txt, x, y in labels:
    ax.text(x, y, txt, fontsize=25, color=gridc, ha='left', va='baseline', zorder=4)

trans = mtransforms.blended_transform_factory(ax.transAxes, ax.transData)
ax.text(-28 / (W - 80), 94.5, '%', transform=trans, fontsize=24, color=gridc,
        ha='center', va='center', clip_on=False)

fig.savefig('out.png', dpi=100, facecolor='white')
